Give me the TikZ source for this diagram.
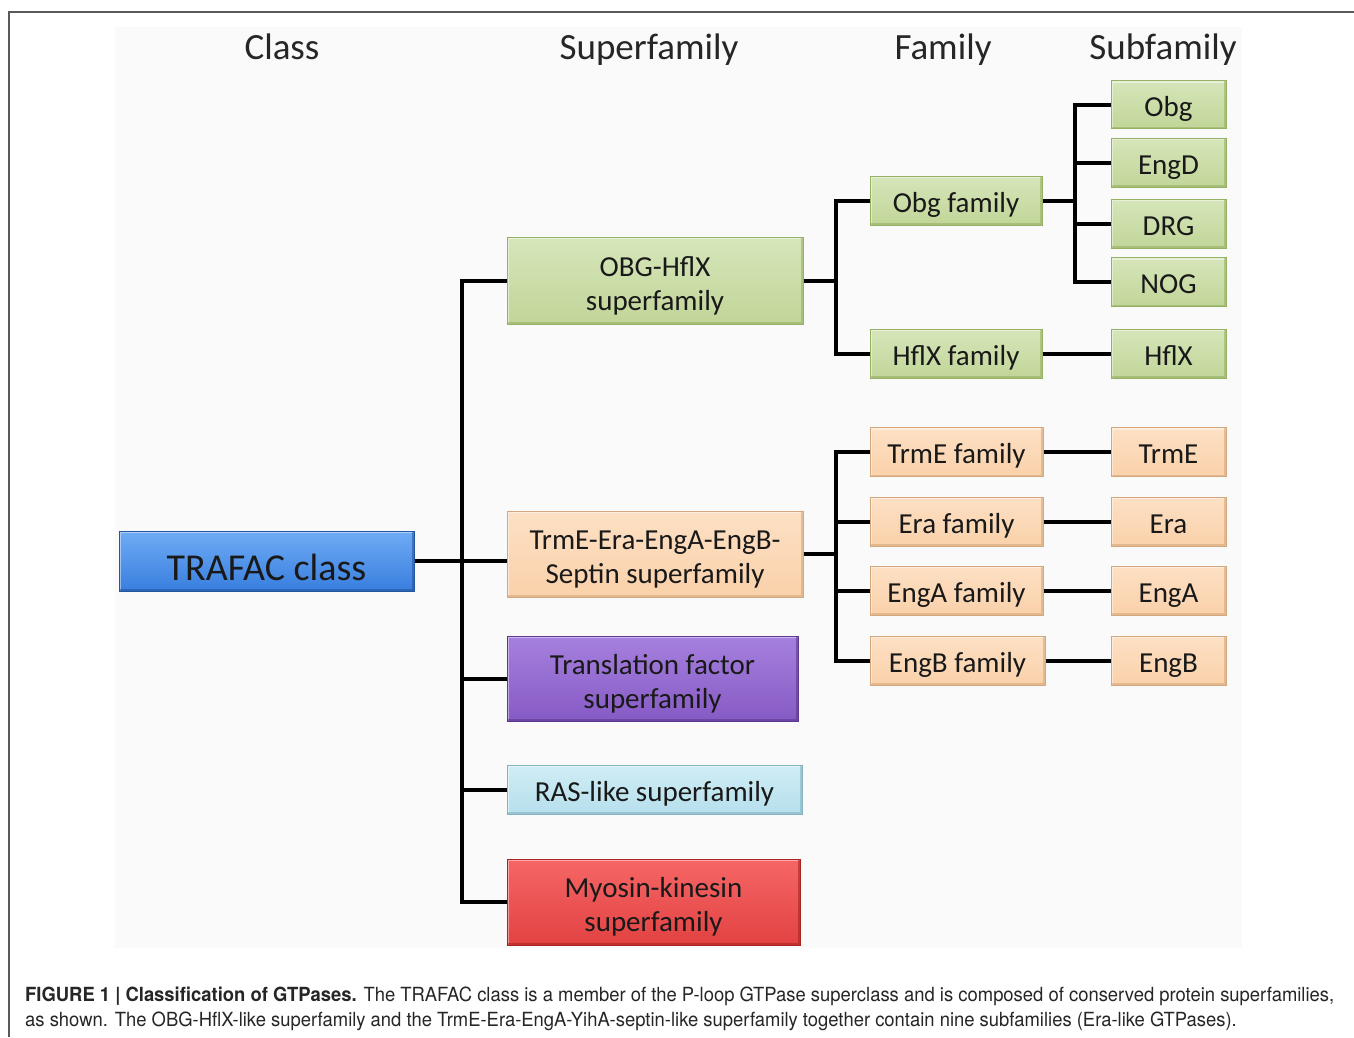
\documentclass[tikz,border=0pt]{standalone}
\usepackage{fontspec}
\setmainfont{Carlito}
\newfontfamily\pie[FakeStretch=0.945]{TeX Gyre Heros}
\usepackage{xcolor}
\definecolor{verdeA}{RGB}{214,230,186}
\definecolor{verdeB}{RGB}{193,213,152}
\definecolor{verdeC}{RGB}{150,176,100}
\definecolor{naranjaA}{RGB}{253,224,196}
\definecolor{naranjaB}{RGB}{250,209,170}
\definecolor{naranjaC}{RGB}{212,168,124}
\definecolor{azulA}{RGB}{112,172,245}
\definecolor{azulB}{RGB}{56,126,222}
\definecolor{azulC}{RGB}{36,86,160}
\definecolor{moradoA}{RGB}{166,128,222}
\definecolor{moradoB}{RGB}{134,90,196}
\definecolor{moradoC}{RGB}{92,56,142}
\definecolor{cianA}{RGB}{208,237,245}
\definecolor{cianB}{RGB}{182,223,236}
\definecolor{cianC}{RGB}{132,178,192}
\definecolor{rojoA}{RGB}{246,102,102}
\definecolor{rojoB}{RGB}{226,66,66}
\definecolor{rojoC}{RGB}{170,36,36}
\definecolor{fondo}{RGB}{250,250,250}
\usepackage{tikz}
\usetikzlibrary{positioning}
\newcommand\puntal[2]{\vrule height #1 depth #2 width 0pt\relax}

\begin{document}
\begin{tikzpicture}[x=1pt,y=-1pt,
    caja/.style={top color=#1A, bottom color=#1B, draw=#1C, line width=1pt,
      align=center, inner sep=0pt, text=black!90,
      font=\fontsize{29}{34}\selectfont,
      execute at begin node={\puntal{30.6pt}{7pt}},
      path picture={
        \draw[white, opacity=0.45, line width=4pt]
          (path picture bounding box.south west) -- (path picture bounding box.north west)
          -- (path picture bounding box.north east);
        \draw[#1C, opacity=0.6, line width=4pt]
          (path picture bounding box.south west) -- (path picture bounding box.south east)
          -- (path picture bounding box.north east);}},
    doble/.style={execute at begin node={\puntal{66pt}{7pt}}},
    linea/.style={line width=4pt, black},
    titulo/.style={anchor=base, font=\fontsize{37}{44}\selectfont, text=black!85}]
  \useasboundingbox (0,0) rectangle (1354,1037);
  \fill[white] (0,0) rectangle (1354,1037);
  \fill[fondo] (115,27) rectangle (1242,948);
  \draw[black!65, line width=1.5pt] (1354,12) -- (9,12) -- (9,1037);

  % Encabezados
  \node[titulo] (hclase) at (282,59) {Class};
  \node[titulo] (hsuper) at (649,59) {Superfamily};
  \node[titulo] (hfam) at (943,59) {Family};
  \node[titulo] (hsub) at (1163,59) {Subfamily};

  % Clase
  \node[caja=azul, minimum width=295pt, minimum height=60pt,
    font=\fontsize{38}{44}\selectfont, execute at begin node={\puntal{47pt}{9pt}}]
    (trafac) at (266.5,561) {TRAFAC class};

  % Superfamilias
  \node[caja=verde, doble, minimum width=296pt, minimum height=87pt] (obgsf) at (655,280.5) {OBG-HflX\\superfamily};
  \node[caja=naranja, doble, minimum width=296pt, minimum height=86pt] (trmesf) at (655,554) {TrmE-Era-EngA-EngB-\\Septin superfamily};
  \node[caja=morado, doble, minimum width=291pt, minimum height=85pt] (translsf) at (652.5,678.5) {Translation factor\\superfamily};
  \node[caja=cian, minimum width=295pt, minimum height=49pt] (rassf) at (654.5,789.5) {RAS-like superfamily};
  \node[caja=rojo, doble, minimum width=293pt, minimum height=86pt] (myosinsf) at (653.5,902) {Myosin-kinesin\\superfamily};

  % Familias
  \node[caja=verde, minimum width=172pt, minimum height=49pt] (obgfam) at (956,200.5) {Obg family};
  \node[caja=verde, minimum width=172pt, minimum height=49pt] (hflxfam) at (956,353.5) {HflX family};
  \node[caja=naranja, minimum width=173pt, minimum height=49pt] (trmefam) at (956.5,452) {TrmE family};
  \node[caja=naranja, minimum width=173pt, minimum height=49pt] (erafam) at (956.5,521.5) {Era family};
  \node[caja=naranja, minimum width=173pt, minimum height=49pt] (engafam) at (956.5,590.5) {EngA family};
  \node[caja=naranja, minimum width=175pt, minimum height=49pt] (engbfam) at (957.5,660.5) {EngB family};

  % Subfamilias
  \node[caja=verde, minimum width=115pt, minimum height=48pt] (obgsub) at (1168.5,104.5) {Obg};
  \node[caja=verde, minimum width=115pt, minimum height=49pt] (engdsub) at (1168.5,162.5) {EngD};
  \node[caja=verde, minimum width=115pt, minimum height=49pt] (drgsub) at (1168.5,223.5) {DRG};
  \node[caja=verde, minimum width=115pt, minimum height=49pt] (nogsub) at (1168.5,282) {NOG};
  \node[caja=verde, minimum width=115pt, minimum height=49pt] (hflxsub) at (1168.5,353.5) {HflX};
  \node[caja=naranja, minimum width=115pt, minimum height=49pt] (trmesub) at (1168.5,452) {TrmE};
  \node[caja=naranja, minimum width=115pt, minimum height=49pt] (erasub) at (1168.5,521.5) {Era};
  \node[caja=naranja, minimum width=115pt, minimum height=49pt] (engasub) at (1168.5,590.5) {EngA};
  \node[caja=naranja, minimum width=115pt, minimum height=49pt] (engbsub) at (1168.5,660.5) {EngB};

  % Lineas de union
  \coordinate (b1) at (462,0);
  \coordinate (b2) at (836,0);
  \coordinate (b3) at (1075,0);
  \draw[linea] (trafac.east) -- (trafac.east -| trmesf.west);
  \draw[linea] (obgsf.west) -| (b1 |- myosinsf.west) -- (myosinsf.west);
  \foreach \n in {translsf,rassf}
    \draw[linea] (b1 |- \n.west) -- (\n.west);
  \draw[linea] (obgsf.east) -- (obgsf.east -| b2);
  \draw[linea] (obgfam.west) -| (b2 |- hflxfam.west) -- (hflxfam.west);
  \draw[linea] (trmesf.east) -- (trmesf.east -| b2);
  \draw[linea] (trmefam.west) -| (b2 |- engbfam.west) -- (engbfam.west);
  \foreach \n in {erafam,engafam}
    \draw[linea] (b2 |- \n.west) -- (\n.west);
  \draw[linea] (obgfam.east) -- (obgfam.east -| b3);
  \draw[linea] (obgsub.west) -| (b3 |- nogsub.west) -- (nogsub.west);
  \foreach \n in {engdsub,drgsub}
    \draw[linea] (b3 |- \n.west) -- (\n.west);
  \foreach \a/\b in {hflxfam/hflxsub,trmefam/trmesub,erafam/erasub,engafam/engasub,engbfam/engbsub}
    \draw[linea] (\a) -- (\b);

  % Pie de figura
  \node[anchor=base west, align=left, inner sep=0pt, text=black!85,
    font=\pie\fontsize{19.5}{25}\selectfont] (pie) at (25,1026)
    {\textbf{FIGURE 1 | Classification of GTPases.} The TRAFAC class is a member of the P-loop GTPase superclass and is composed of conserved protein superfamilies,\\
     as shown. The OBG-HflX-like superfamily and the TrmE-Era-EngA-YihA-septin-like superfamily together contain nine subfamilies (Era-like GTPases).};
\end{tikzpicture}
\end{document}
